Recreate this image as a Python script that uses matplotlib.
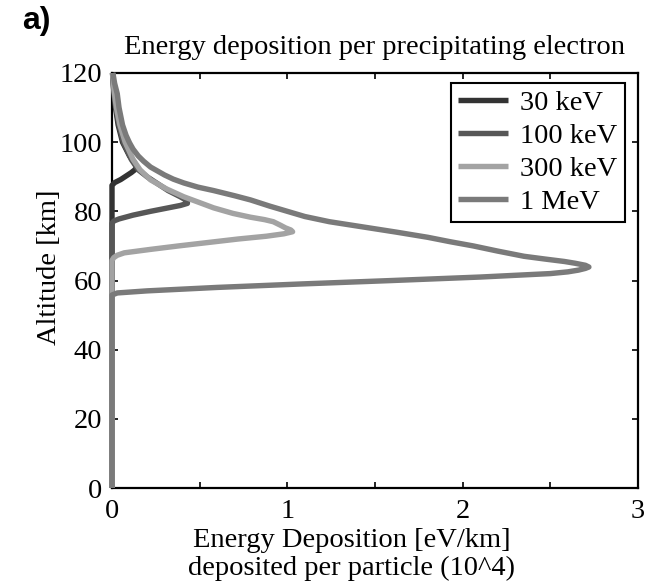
import matplotlib
matplotlib.use("Agg")
import matplotlib.pyplot as plt
from matplotlib.ticker import MultipleLocator

# altitude [km] and energy deposition (10^4 eV/km)
alt_30kev = [0, 87.5, 88.3, 89.2, 90.2, 91.2, 92, 92.8, 94, 96, 100, 105, 110, 115, 120]
dep_30kev = [0, 0, 0.015, 0.05, 0.08, 0.11, 0.13, 0.14, 0.13, 0.1, 0.06, 0.035, 0.02, 0.01, 0.003]

alt_100kev = [0, 76.5, 77.2, 77.8, 78.9, 80, 80.9, 81.7, 82.3, 82.9, 83.6, 84.2, 86, 88, 90,
              92, 95, 100, 105, 110, 115, 120]
dep_100kev = [0, 0, 0.01, 0.04, 0.12, 0.22, 0.31, 0.39, 0.43, 0.43, 0.41, 0.39, 0.32, 0.26, 0.2,
              0.15, 0.11, 0.065, 0.04, 0.022, 0.01, 0.003]

alt_300kev = [0, 65.8, 66.6, 67.3, 68, 69, 70, 71, 72, 72.8, 73.5, 74.1, 74.6, 75.2, 76, 77,
              77.6, 78.3, 79.4, 81, 82.7, 84.2, 86.5, 89.1, 92, 95, 100, 105, 110, 115, 120]
dep_300kev = [0, 0, 0.01, 0.03, 0.07, 0.22, 0.38, 0.55, 0.72, 0.88, 0.98, 1.03, 1.02, 0.99, 0.96,
              0.92, 0.87, 0.79, 0.69, 0.58, 0.49, 0.41, 0.31, 0.22, 0.16, 0.12, 0.075, 0.045,
              0.025, 0.012, 0.003]

alt_1mev = [0, 55.8, 56.4, 57, 58, 59, 60, 61, 62, 62.5, 63, 63.5, 63.9, 64.4, 65, 65.5, 66.2,
            67, 68.5, 70, 71.2, 72.5, 74, 75.5, 77, 78.5, 80, 81.5, 83.3, 84.5, 86, 87, 88.2,
            89.3, 90.5, 92.8, 94.5, 96, 98, 99.8, 102, 105, 110, 114, 117, 120]
dep_1mev = [0, 0, 0.03, 0.2, 0.6, 1.08, 1.6, 2.1, 2.5, 2.6, 2.66, 2.7, 2.72, 2.7, 2.64, 2.58,
            2.47, 2.35, 2.2, 2.06, 1.93, 1.8, 1.62, 1.43, 1.24, 1.1, 1.0, 0.9, 0.79, 0.7, 0.58,
            0.49, 0.41, 0.35, 0.3, 0.22, 0.18, 0.15, 0.12, 0.1, 0.08, 0.06, 0.04, 0.03, 0.015,
            0.005]

labels = ["30 keV", "100 keV", "300 keV", "1 MeV"]
colors = ["#333333", "#575757", "#a3a3a3", "#7a7a7a"]

plt.rcParams["font.family"] = ["Liberation Serif", "DejaVu Serif"]
fs = 20.5

fig = plt.figure(figsize=(6.52, 5.84), dpi=100)
ax = fig.add_axes([112 / 652, 1 - 488 / 584, 526 / 652, 415 / 584])

series = [(alt_30kev, dep_30kev), (alt_100kev, dep_100kev),
          (alt_300kev, dep_300kev), (alt_1mev, dep_1mev)]
for (alt, dep), lab, col in zip(series, labels, colors):
    ax.plot(dep, alt, color=col, lw=3.9, label=lab, clip_on=False, zorder=3,
            solid_capstyle="butt", solid_joinstyle="round")

ax.set_xlim(0, 3)
ax.set_ylim(0, 120)
ax.xaxis.set_major_locator(MultipleLocator(1))
ax.xaxis.set_minor_locator(MultipleLocator(0.5))
ax.yaxis.set_major_locator(MultipleLocator(20))
ax.tick_params(which="both", direction="in", top=True, right=True, length=4, width=1.2,
               labelsize=fs)
ax.tick_params(axis="y", pad=7)
ax.tick_params(axis="x", pad=8)
for s in ax.spines.values():
    s.set_linewidth(1.6)

ax.set_title("Energy deposition per precipitating electron", fontsize=fs, pad=14)
ax.set_xlabel("Energy Deposition [eV/km]\ndeposited per particle (10^4)", fontsize=fs,
              linespacing=1.15)
ax.xaxis.set_label_coords((352 - 112) / 526, (488 - 528) / 415)
ax.set_ylabel("Altitude [km]", fontsize=fs)
ax.yaxis.set_label_coords((62 - 112) / 526, (488 - 267) / 415)

leg = ax.legend(loc="upper right", bbox_to_anchor=(0.975, 0.976), borderaxespad=0,
                fontsize=fs, handlelength=1.75, labelspacing=0.25, handletextpad=0.45,
                fancybox=False, framealpha=1, edgecolor="black", borderpad=0.25)
leg.get_frame().set_linewidth(1.5)

fig.text(22 / 652, 1 - 21 / 584, "a)", fontsize=23, fontweight="bold",
         family="Liberation Sans", va="center", ha="left")

fig.savefig("out.png", dpi=100)
